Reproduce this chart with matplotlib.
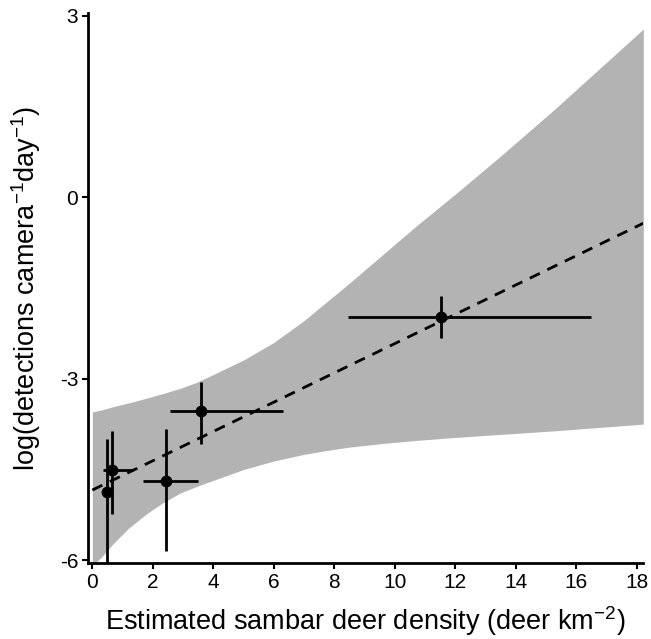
import matplotlib
matplotlib.use('Agg')
import matplotlib.pyplot as plt
import numpy as np

plt.rcParams['font.family'] = ['Liberation Sans', 'DejaVu Sans']
plt.rcParams['mathtext.fontset'] = 'custom'
plt.rcParams['mathtext.rm'] = 'Liberation Sans'
plt.rcParams['mathtext.default'] = 'regular'

# observed points with error bar bounds
dens = np.array([0.50, 0.66, 2.43, 3.58, 11.53])
dens_lo = np.array([0.45, 0.36, 1.69, 2.57, 8.45])
dens_hi = np.array([0.55, 1.36, 3.50, 6.32, 16.48])
det = np.array([-4.87, -4.51, -4.69, -3.53, -1.98])
det_lo = np.array([-6.40, -5.24, -5.85, -4.08, -2.32])
det_hi = np.array([-4.00, -3.86, -3.83, -3.06, -1.64])

# fitted line and confidence band
fit_x = [0, 18.22]
fit_y = [-4.84, -0.43]
band_x = np.array([0, 0.35, 0.7, 1.2, 1.8, 2.3, 2.9, 3.45, 4.0, 5.0, 6.0, 7.0,
                   7.7, 8.5, 9.6, 10.7, 12.0, 13.5, 15.3, 18.22])
band_hi = np.array([-3.55, -3.51, -3.46, -3.40, -3.32, -3.25, -3.16, -3.06, -2.93,
                    -2.69, -2.40, -2.04, -1.75, -1.42, -0.95, -0.48, 0.05, 0.68,
                    1.46, 2.78])
band_lo = np.array([-6.10, -5.92, -5.72, -5.47, -5.23, -5.06, -4.89, -4.78, -4.68,
                    -4.50, -4.36, -4.25, -4.19, -4.13, -4.07, -4.02, -3.97, -3.92,
                    -3.86, -3.75])

fig = plt.figure(figsize=(6.51, 6.39), dpi=100)
ax = fig.add_axes([0.1352, 0.1185, 0.853, 0.8607])

ax.fill_between(band_x, band_lo, band_hi, color='#b3b3b3', lw=0, zorder=1)
ax.plot(fit_x, fit_y, color='black', lw=2, dashes=(4, 3), zorder=2)
ax.errorbar(dens, det, xerr=[dens - dens_lo, dens_hi - dens],
            yerr=[det - det_lo, det_hi - det], fmt='o', color='black',
            ms=7.5, elinewidth=2, capsize=0, zorder=3)

ax.set_xlim(-0.142, 18.22)
ax.set_ylim(-6.05, 3.04)
ax.set_xticks(np.arange(0, 19, 2))
ax.set_yticks([3, 0, -3, -6])
ax.set_yticklabels(['3', '0', '-3', '-6'])

for s in ['top', 'right']:
    ax.spines[s].set_visible(False)
for s in ['left', 'bottom']:
    ax.spines[s].set_linewidth(2)
ax.tick_params(width=1.5, length=4.5, labelsize=15, pad=2.5)

ax.set_xlabel('Estimated sambar deer density (deer km$^{-2}$)', fontsize=19.5)
ax.set_ylabel('log(detections camera$^{-1}$day$^{-1}$)', fontsize=19.5)
ax.xaxis.set_label_coords(0.5, -0.074)
ax.yaxis.set_label_coords(-0.081, 0.5)

fig.savefig('out.png', dpi=100)
